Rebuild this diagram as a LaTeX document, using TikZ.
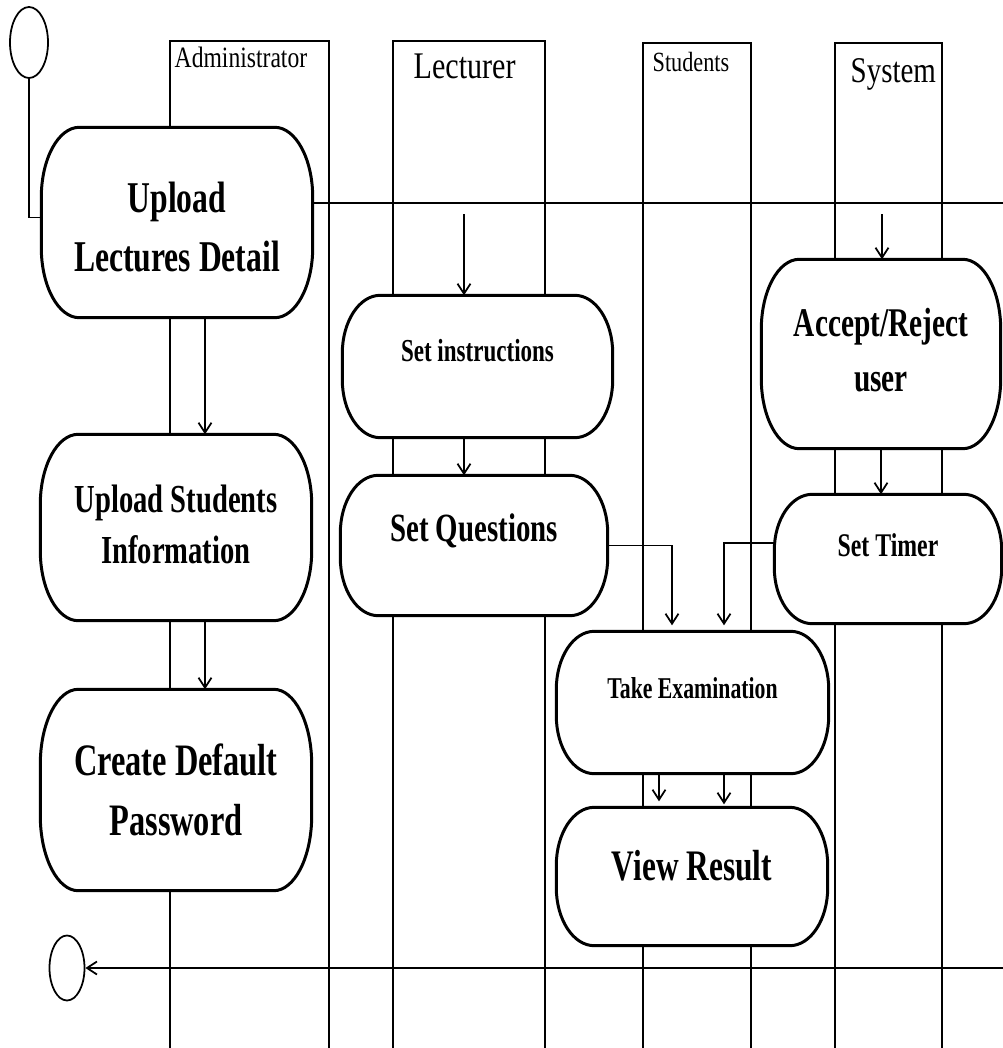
\documentclass[tikz,border=0pt]{standalone}
\usepackage{fontspec}
\setmainfont{Liberation Serif}
\newfontfamily\actfont[FakeStretch=0.72]{Liberation Serif}
\newfontfamily\lanefont[FakeStretch=0.8]{Liberation Serif}
\usetikzlibrary{shapes.geometric,arrows.meta,backgrounds}

\tikzset{
  lane/.style={line width=0.5pt},
  lanename/.style={anchor=base west, inner sep=0pt, font=\lanefont},
  actbox/.style={inner sep=0pt, minimum width=#1},
  acttext/.style 2 args={align=center, inner sep=0pt,
    font=\actfont\bfseries\fontsize{#1}{#2}\selectfont},
  actline/.style={line width=0.85pt, fill=white},
  flow/.style={line width=0.5pt, -{Straight Barb[length=1mm,width=1.3mm]}},
  terminal/.style={draw, ellipse, inner sep=0pt, line width=0.5pt},
}

% outline of an activity: flat top and bottom, curved sides (#2 = side curve height)
\newcommand{\actoutline}[2]{%
  \filldraw[actline] ([xshift=3.8mm]#1.north west) -- ([xshift=-3.8mm]#1.north east)
    .. controls +(2.1mm,0) and +(0,0.55*#2) .. ([yshift=-#2]#1.north east)
    -- ([yshift=#2]#1.south east)
    .. controls +(0,-0.55*#2) and +(2.1mm,0) .. ([xshift=-3.8mm]#1.south east)
    -- ([xshift=3.8mm]#1.south west)
    .. controls +(-2.1mm,0) and +(0,-0.55*#2) .. ([yshift=#2]#1.south west)
    -- ([yshift=-#2]#1.north west)
    .. controls +(0,0.55*#2) and +(-2.1mm,0) .. ([xshift=3.8mm]#1.north west) -- cycle;}

\begin{document}
\begin{tikzpicture}

\useasboundingbox (0,0) rectangle (10.03,-10.48);

% Lane names
\node[lanename, font=\lanefont\fontsize{8.4}{10}\selectfont] (admin) at (1.74,-0.68) {Administrator};
\node[lanename, font=\lanefont\fontsize{10.7}{12}\selectfont] (lect) at (4.13,-0.79) {Lecturer};
\node[lanename, font=\lanefont\fontsize{7.9}{9}\selectfont] (stud) at (6.52,-0.72) {Students};
\node[lanename, font=\lanefont\fontsize{10.3}{12}\selectfont] (sys) at (8.50,-0.83) {System};

% Start and end
\node[terminal, minimum width=0.38cm, minimum height=0.71cm] (start) at (0.29,-0.425) {};
\node[terminal, minimum width=0.35cm, minimum height=0.65cm] (end) at (0.67,-9.68) {};

% Activities (boxes)
\node[actbox=2.70cm, minimum height=1.89cm] (uld) at (1.77,-2.225) {};
\node[actbox=2.70cm, minimum height=1.85cm] (usi) at (1.76,-5.275) {};
\node[actbox=2.70cm, minimum height=2.00cm] (cdp) at (1.76,-7.90) {};
\node[actbox=2.69cm, minimum height=1.41cm] (si) at (4.775,-3.665) {};
\node[actbox=2.66cm, minimum height=1.39cm] (sq) at (4.74,-5.455) {};
\node[actbox=2.38cm, minimum height=1.88cm] (ar) at (8.81,-3.54) {};
\node[actbox=2.26cm, minimum height=1.28cm] (st) at (8.88,-5.59) {};
\node[actbox=2.71cm, minimum height=1.41cm] (te) at (6.925,-7.025) {};
\node[actbox=2.70cm, minimum height=1.37cm] (vr) at (6.92,-8.765) {};

% Activity texts
\node[acttext={12.5}{16.8}] (uld-t) at ([yshift=-0.5mm]uld) {Upload\\Lectures Detail};
\node[acttext={11.3}{14.5}] (usi-t) at ([yshift=0.3mm]usi) {Upload Students\\Information};
\node[acttext={12.8}{17}] (cdp-t) at (cdp) {Create Default\\Password};
\node[acttext={9.1}{11}] (si-t) at ([yshift=1.6mm]si) {Set instructions};
\node[acttext={11.4}{13}] (sq-t) at ([yshift=1.5mm]sq) {Set Questions};
\node[acttext={11.6}{15.6}] (ar-t) at ([yshift=0.4mm]ar) {Accept/Reject\\user};
\node[acttext={9.4}{11}] (st-t) at ([yshift=1.4mm]st) {Set Timer};
\node[acttext={8.6}{10}] (te-t) at ([yshift=1.4mm]te) {Take Examination};
\node[acttext={12.4}{14}] (vr-t) at ([yshift=1.1mm]vr) {View Result};

\begin{scope}[on background layer]
% Swimlanes
\draw[lane] (1.70,-10.48) -- (1.70,-0.41) -- (3.29,-0.41) -- (3.29,-10.48);
\draw[lane] (3.93,-10.48) -- (3.93,-0.41) -- (5.45,-0.41) -- (5.45,-10.48);
\draw[lane] (6.43,-10.48) -- (6.43,-0.43) -- (7.51,-0.43) -- (7.51,-10.48);
\draw[lane] (8.35,-10.48) -- (8.35,-0.43) -- (9.42,-0.43) -- (9.42,-10.48);
% Activity outlines
\foreach \a/\h in {uld/7mm,usi/7mm,cdp/7.5mm,si/5.8mm,sq/5.8mm,ar/7mm,st/5.6mm,te/5.8mm,vr/5.8mm}
  \actoutline{\a}{\h};
\end{scope}

% Fork and join bars
\coordinate (forkR) at (10.03,-2.03);
\coordinate (joinR) at (10.03,-9.68);
\draw[lane] (start.south) |- ([yshift=0.5mm]uld.west);
\draw[lane] (uld.east |- forkR) -- (forkR);
\draw[flow] (joinR) -- (end);

% Flows
\draw[flow] ([xshift=-1.35mm,yshift=8.1mm]si.north) -- ([xshift=-1.35mm]si.north);
\draw[flow] ([xshift=0.1mm,yshift=4.5mm]ar.north) -- ([xshift=0.1mm]ar.north);
\draw[flow] ([xshift=2.8mm]uld.south) -- ([xshift=2.8mm]uld.south |- usi.north);
\draw[flow] ([xshift=2.9mm]usi.south) -- ([xshift=2.9mm]usi.south |- cdp.north);
\draw[flow] ([xshift=-1.35mm]si.south) -- ([xshift=-1.35mm]si.south |- sq.north);
\draw[flow] (ar.south) -- (ar.south |- st.north);
\draw[flow] (sq.east) -| ([xshift=-2.05mm,yshift=0.6mm]te.north);
\draw[flow] ([yshift=1.6mm]st.west) -| ([xshift=3.15mm,yshift=0.6mm]te.north);
\draw[flow] ([xshift=-3.35mm]te.south) -- ([xshift=-3.35mm,yshift=0.6mm]te.south |- vr.north);
\draw[flow] ([xshift=3.15mm]te.south) -- ([xshift=3.15mm,yshift=0.3mm]te.south |- vr.north);

\end{tikzpicture}
\end{document}
